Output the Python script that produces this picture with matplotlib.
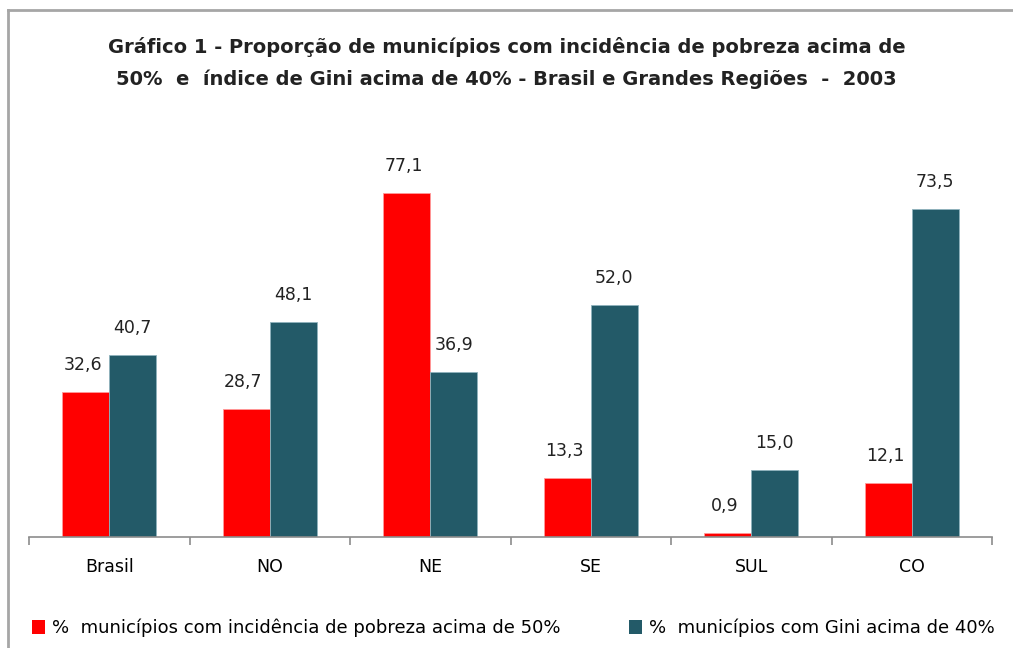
import numpy as np
import matplotlib.pyplot as plt
from matplotlib.lines import Line2D
from matplotlib.patches import Patch

# data
regioes = ['Brasil', 'NO', 'NE', 'SE', 'SUL', 'CO']
pobreza = [32.6, 28.7, 77.1, 13.3, 0.9, 12.1]
gini = [40.7, 48.1, 36.9, 52.0, 15.0, 73.5]
rotulos_pobreza = ['32,6', '28,7', '77,1', '13,3', '0,9', '12,1']
rotulos_gini = ['40,7', '48,1', '36,9', '52,0', '15,0', '73,5']

nome_pobreza = '%  municípios com incidência de pobreza acima de 50%'
nome_gini = '%  municípios com Gini acima de 40%'
titulo = ('Gráfico 1 - Proporção de municípios com incidência de pobreza acima de\n'
          '50%  e  índice de Gini acima de 40% - Brasil e Grandes Regiões  -  2003')

vermelho = '#ff0000'
azul = '#235a68'

W, H = 1013, 648
fig = plt.figure(figsize=(W / 100, H / 100), dpi=100)

## axes placed in pixel terms: axis line at y=537, ticks from x=29 to 992
x0, x1 = 29, 992
y_base = 537
ymax = 90
px_per_unit = 4.46
ax = fig.add_axes([x0 / W, (H - y_base) / H, (x1 - x0) / W, ymax * px_per_unit / H])

x = np.arange(len(regioes))
w = 0.293
b1 = ax.bar(x - w / 2, pobreza, w, color=vermelho, edgecolor='#ff9a9a', linewidth=0.6)
b2 = ax.bar(x + w / 2, gini, w, color=azul, edgecolor='#8fb3bd', linewidth=0.6)

for rect, lab in zip(b1, rotulos_pobreza):
    ax.annotate(lab, (rect.get_x() + rect.get_width() / 2 - 0.02, rect.get_height()),
                xytext=(0, 13), textcoords='offset points', ha='center', va='bottom',
                fontsize=12.5, color='#222222')
for rect, lab in zip(b2, rotulos_gini):
    ax.annotate(lab, (rect.get_x() + rect.get_width() / 2, rect.get_height()),
                xytext=(0, 13), textcoords='offset points', ha='center', va='bottom',
                fontsize=12.5, color='#222222')

ax.set_xlim(-0.5, len(regioes) - 0.5)
ax.set_ylim(0, ymax)
ax.set_yticks([])
for s in ['top', 'right', 'left']:
    ax.spines[s].set_visible(False)
ax.spines['bottom'].set_color('#8c8c8c')
ax.spines['bottom'].set_linewidth(1.2)

ax.set_xticks(x)
ax.set_xticklabels(regioes, fontsize=12.5)
ax.tick_params(axis='x', which='major', length=0, pad=15)
ax.set_xticks(np.arange(-0.5, len(regioes)), minor=True)
ax.tick_params(axis='x', which='minor', length=6, color='#8c8c8c', width=1.2)

fig.text(0.5, 1 - 63 / H, titulo, ha='center', va='center', fontsize=14,
         fontweight='bold', linespacing=1.75, color='#222222')

# outer frame (only top and left edges show)
fig.add_artist(Line2D([7.5 / W, 1], [1 - 9.5 / H, 1 - 9.5 / H], color='#a6a6a6', lw=2))
fig.add_artist(Line2D([7.5 / W, 7.5 / W], [0, 1 - 9.5 / H], color='#a6a6a6', lw=2))

handles = [Patch(facecolor=vermelho), Patch(facecolor=azul)]
fig.legend(handles, [nome_pobreza, nome_gini], ncol=2, loc='center left',
           bbox_to_anchor=(16 / W, 1 - 628 / H), frameon=False,
           handlelength=0.7, handleheight=0.75, handletextpad=0.4, columnspacing=3.8,
           prop={'size': 13})

fig.savefig('out.png', dpi=100, facecolor='white')
